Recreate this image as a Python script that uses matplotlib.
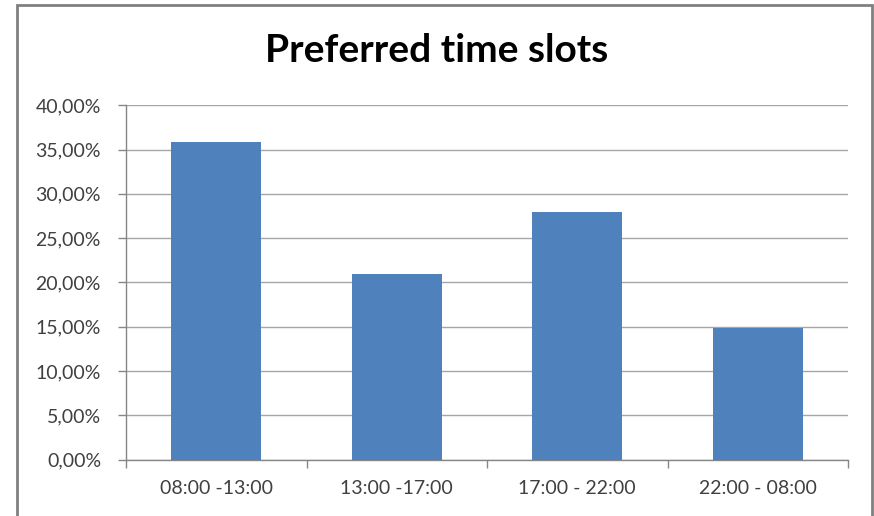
import matplotlib.pyplot as plt
from matplotlib.ticker import FuncFormatter, MultipleLocator
from matplotlib.patches import Rectangle

# data
slots = ["08:00 -13:00", "13:00 -17:00", "17:00 - 22:00", "22:00 - 08:00"]
shares = [35.8, 21.0, 28.0, 14.9]

plt.rcParams['font.family'] = ['Lato', 'DejaVu Sans']

fig = plt.figure(figsize=(8.74, 5.16), dpi=100)
ax = fig.add_axes([126 / 874, 1 - 459.5 / 516, (848 - 126) / 874, (459.5 - 105.3) / 516])

ax.bar(range(len(slots)), shares, width=0.5, color="#4F81BD", zorder=3)

ax.set_xlim(-0.5, len(slots) - 0.5)
ax.set_ylim(0, 40)
ax.yaxis.set_major_locator(MultipleLocator(5))
ax.yaxis.set_major_formatter(FuncFormatter(lambda v, p: f"{v:.2f}%".replace(".", ",")))
ax.set_xticks(range(len(slots)))
ax.set_xticklabels(slots)
ax.set_xticks([i - 0.5 for i in range(len(slots) + 1)], minor=True)
ax.tick_params(axis="x", which="major", length=0, pad=15, labelsize=14, labelcolor="#404040")
ax.tick_params(axis="x", which="minor", length=6, width=1, color="#868686")
ax.tick_params(axis="y", length=6, width=1, color="#868686", labelsize=14, labelcolor="#404040", pad=12)

ax.grid(axis="y", color="#a6a6a6", linewidth=1, zorder=0)
for s in ["top", "right"]:
    ax.spines[s].set_visible(False)
for s in ["left", "bottom"]:
    ax.spines[s].set_color("#868686")
    ax.spines[s].set_linewidth(1)

fig.text(0.5, 1 - 51 / 516, "Preferred time slots", ha="center", va="center",
         fontsize=28, fontweight="bold", color="black")

# outer chart frame
fig.patches.append(Rectangle((17 / 874, -0.05), (872 - 17) / 874, 1.05 - 5.5 / 516,
                             transform=fig.transFigure, fill=False,
                             edgecolor="#808080", linewidth=2))

fig.savefig("out.png", dpi=100)
